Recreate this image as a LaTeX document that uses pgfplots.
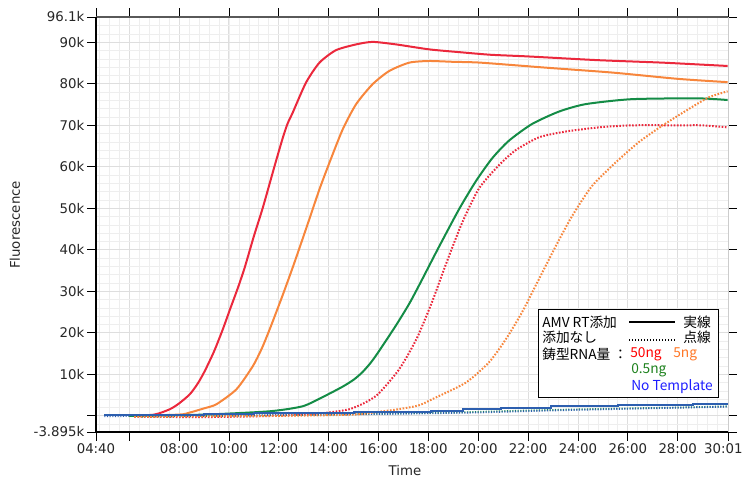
\documentclass[border=0pt]{standalone}
\usepackage{pgfplots}
\pgfplotsset{compat=1.18}
\usepackage{fontspec}
\setmainfont{DejaVu Sans}
\newfontfamily\jp{Noto Sans CJK JP}
\definecolor{cred}{RGB}{235,40,60}
\definecolor{corange}{RGB}{247,134,60}
\definecolor{cgreen}{RGB}{20,140,70}
\definecolor{cblue}{RGB}{45,95,175}
\definecolor{tred}{RGB}{255,0,0}
\definecolor{torange}{RGB}{255,120,40}
\definecolor{tgreen}{RGB}{30,130,30}
\definecolor{tblue}{RGB}{30,30,255}
\definecolor{gmaj}{RGB}{222,222,222}
\definecolor{gmin}{RGB}{238,238,238}
\begin{document}
\begin{tikzpicture}
\begin{axis}[
  at={(0,0)}, anchor=south west,
  scale only axis, width=474pt, height=311.25pt,
  xmin=4.6667, xmax=30.0167, ymin=-3895, ymax=96100,
  scaled x ticks=false, scaled y ticks=false,
  xtick={6,8,...,28},
  xticklabels={{},08:00,10:00,12:00,14:00,16:00,18:00,20:00,22:00,24:00,26:00,28:00},
  extra x ticks={4.6667,30.0167}, extra x tick labels={04:40,{\kern-7pt30:01}},
  extra x tick style={grid=none},
  ytick={0,10000,...,90000},
  yticklabels={{},10k,20k,30k,40k,50k,60k,70k,80k,90k},
  extra y ticks={-3895,96100}, extra y tick labels={-3.895k,96.1k},
  extra y tick style={grid=none},
  minor xtick={4.8,5.2,...,29.7},
  minor ytick={-2000,0,...,96000},
  grid=both,
  major grid style={draw=gmaj, line width=0.75pt},
  minor grid style={draw=gmin, line width=0.6pt},
  tick align=outside, major tick length=6.5pt, minor tick length=0pt,
  tick style={black, line width=0.6pt},
  axis line style={draw=none},
  ticklabel style={font=\fontsize{10}{12}\selectfont, text=black!85},
  xticklabel style={inner sep=2pt},
  yticklabel style={inner sep=2pt},
  xlabel={Time}, ylabel={Fluorescence},
  label style={font=\fontsize{10}{12}\selectfont, text=black!85},
  xlabel style={at={(axis description cs:0.489,-0.094)}, anchor=center},
  ylabel style={at={(axis description cs:-0.1282,0.499)}, anchor=center},
  clip=true,
]
% baseline dotted (no template)
\addplot[cgreen, line width=1.3pt, dash pattern=on 0.8pt off 1.2pt] coordinates {
(6.5,-200) (10,0) (14,300) (16,500) (19,800) (22,1300) (25,1700) (28,2000) (30.0,2300)};
\addplot[cblue, line width=1.3pt, dash pattern=on 0.8pt off 1.2pt] coordinates {
(5.0,-100) (10,100) (14,300) (17,500) (20,800) (23,1300) (26,1700) (30.0,2200)};
% red solid 50ng
\addplot[cred, line width=1.5pt, smooth, tension=0.4] coordinates {
(6.0,0) (7.0,300) (7.63,1600) (8.0,3000) (8.43,5200) (8.75,7800) (9.03,10800) (9.4,15500) (9.75,20800) (10.05,25800) (10.35,30700) (10.63,35700) (11.0,43300) (11.36,50200) (11.83,60200) (12.16,67000) (12.35,70400) (12.56,73100) (13.09,80300) (13.63,85100) (14.29,88100) (15.1,89500) (15.76,90100) (16.7,89500) (18.03,88300) (19.3,87600) (20.5,87000) (22.0,86600) (24.8,85700) (27.4,85100) (30.0,84300)};
% orange solid 5ng
\addplot[corange, line width=1.5pt, smooth, tension=0.4] coordinates {
(6.0,0) (8.0,300) (8.43,800) (9.0,1800) (9.5,2800) (10.3,6400) (10.95,11900) (11.3,16000) (11.63,20800) (12.15,29000) (12.63,37000) (13.23,47500) (13.63,54600) (14.03,61000) (14.56,69000) (15.1,75100) (15.76,79900) (16.43,83100) (17.23,85100) (18.03,85500) (19.0,85300) (20.1,85100) (22.7,83900) (25.4,82700) (28.0,81200) (30.0,80400)};
% green solid 0.5ng
\addplot[cgreen, line width=1.5pt, smooth, tension=0.4] coordinates {
(6.0,0) (9,300) (11.63,1100) (12.95,2300) (13.75,4500) (14.55,7000) (15.0,8700) (15.35,10500) (15.7,12900) (16.03,15700) (16.7,21800) (17.23,27000) (17.63,31500) (18.0,35800) (18.43,40800) (19.23,49800) (19.9,56500) (20.55,62000) (21.23,66300) (22.15,70300) (23.23,73300) (24.3,75100) (26.15,76300) (28.8,76500) (30.0,76100)};
% red dotted
\addplot[cred, line width=1.5pt, dash pattern=on 1.2pt off 1.2pt, smooth, tension=0.4] coordinates {
(6.2,-200) (9,-300) (12,0) (13,300) (14.0,800) (14.83,1600) (15.4,3000) (15.9,4800) (16.3,7300) (16.8,11000) (17.2,14900) (17.6,19500) (18.15,27500) (18.7,36500) (19.35,46500) (20.03,54800) (20.83,60400) (21.5,64000) (22.43,67100) (23.5,68500) (24.83,69500) (26.15,70000) (28.15,70000) (29.0,70000) (30.0,69500)};
% orange dotted
\addplot[corange, line width=1.5pt, dash pattern=on 1.2pt off 1.2pt, smooth, tension=0.4] coordinates {
(6.2,-200) (12,0) (15,300) (16.03,1000) (16.8,1600) (17.6,2500) (18.15,4000) (19.5,8000) (20.43,12900) (21.1,18400) (21.75,24900) (22.43,32900) (23.1,40800) (23.75,48000) (24.55,55300) (25.5,61000) (26.43,65900) (27.35,69800) (28.3,73400) (29.23,76700) (30.0,78200)};
% blue solid no template
\addplot[cblue, line width=1.5pt, const plot] coordinates {
(5.0,100) (7,200) (9,400) (11,600) (13,800) (15,900) (17.0,1000) (18.1,1200) (19.4,1700) (20.9,2000) (22.9,2400) (25.6,2600) (28.6,2900) (30.0,2900)};
\end{axis}
\begin{scope}[x=0.75pt, y=-0.75pt, shift={(-72pt,324pt)}]
  % frame
  \draw[gray!40, line width=0.75pt] (728,17) -- (728,432);
  \draw[black!65, line width=1.5pt] (95.5,17) -- (728,17);
  \draw[black, line width=0.9pt] (96,17) -- (96,432.4);
  \draw[black, line width=0.9pt] (95.6,432) -- (728,432);
  % legend
  \draw[black, line width=0.75pt, fill=white] (538,309) rectangle (718,397);
  \node[anchor=west, inner sep=0pt, font=\fontsize{10.3}{12}\selectfont\jp] at (542,322.7) {AMV RT添加};
  \draw[black, line width=1.5pt] (629,322) -- (675,322);
  \node[anchor=west, inner sep=0pt, font=\fontsize{10.3}{12}\selectfont\jp] at (683,322.7) {実線};
  \node[anchor=west, inner sep=0pt, font=\fontsize{10.3}{12}\selectfont\jp] at (542,337.7) {添加なし};
  \draw[black, line width=1pt, dash pattern=on 0.75pt off 1.5pt] (629,340) -- (675,340);
  \node[anchor=west, inner sep=0pt, font=\fontsize{10.3}{12}\selectfont\jp] at (683,337.7) {点線};
  \node[anchor=west, inner sep=0pt, font=\fontsize{10.3}{12}\selectfont\jp] at (542,354.3) {鋳型RNA量 ：};
  \node[anchor=west, inner sep=0pt, font=\fontsize{10.3}{12}\selectfont\jp, text=tred] at (630,354.3) {50ng};
  \node[anchor=west, inner sep=0pt, font=\fontsize{10.3}{12}\selectfont\jp, text=torange] at (673,354.3) {5ng};
  \node[anchor=west, inner sep=0pt, font=\fontsize{10.3}{12}\selectfont\jp, text=tgreen] at (631,370) {0.5ng};
  \node[anchor=west, inner sep=0pt, font=\fontsize{10.3}{12}\selectfont\jp, text=tblue] at (631,386.7) {No Template};
\end{scope}
\pgfresetboundingbox
\useasboundingbox (-72pt,-36pt) rectangle (486.75pt,324pt);
\end{tikzpicture}
\end{document}
